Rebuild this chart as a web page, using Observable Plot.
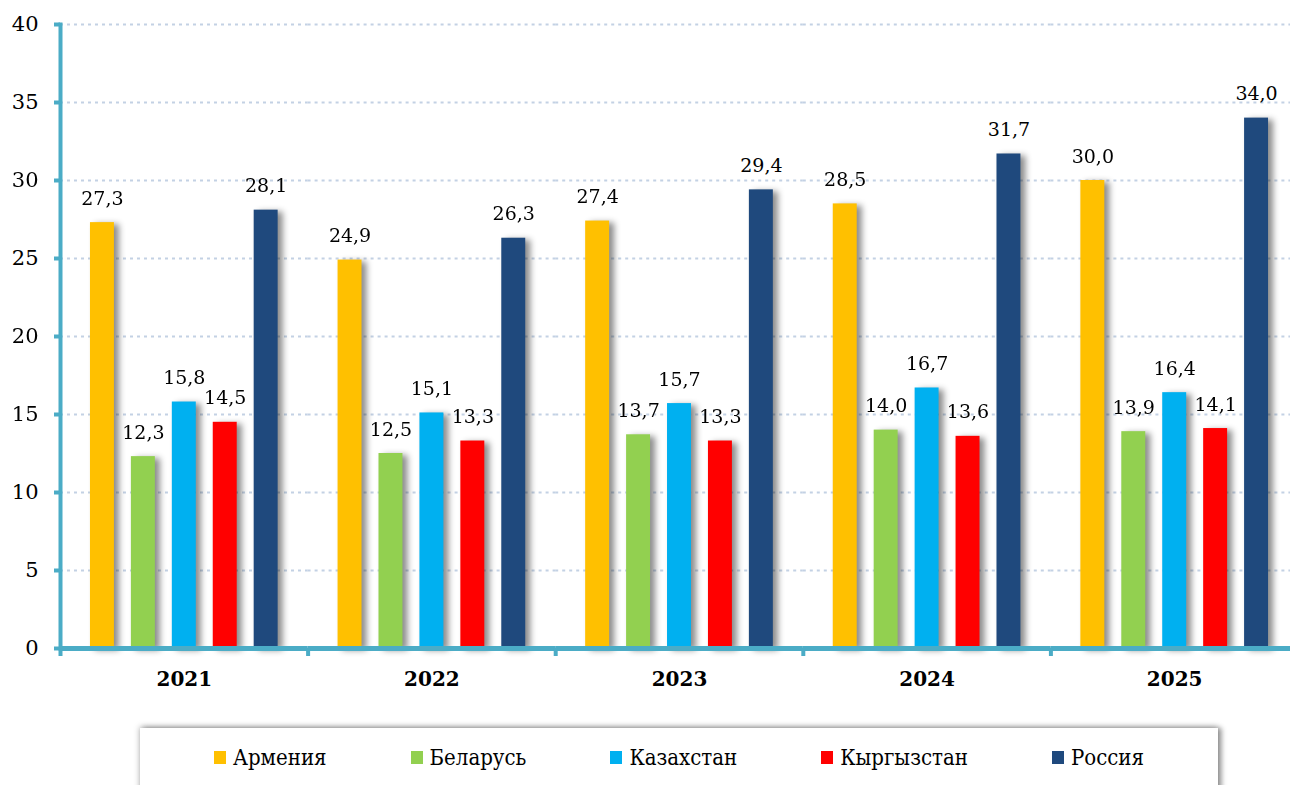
<!DOCTYPE html>
<html>
<head>
<meta charset="utf-8">
<script src="https://cdn.jsdelivr.net/npm/d3@7"></script>
<script src="https://cdn.jsdelivr.net/npm/@observablehq/plot@0.6"></script>
<style>
  html, body { margin: 0; padding: 0; background: #fff; overflow: hidden; width: 1290px; height: 785px; }
  #chart svg { display: block; overflow: visible; max-width: none !important; }
  #legend {
    position: absolute; left: 140px; top: 728px; width: 1078px; height: 80px;
    background: #fff; box-shadow: 0 -1px 6px rgba(0,0,0,0.35), 4px 0 5px rgba(0,0,0,0.3);
    display: flex; justify-content: center; align-items: flex-start; gap: 84px;
    font-family: "DejaVu Serif", serif; font-stretch: condensed; font-size: 22px; color: #000;
  }
  #legend .item { display: flex; align-items: center; margin-top: 17px; }
  #legend .sw { width: 12px; height: 13px; margin-right: 7px; }
</style>
</head>
<body>
<div id="chart"></div>
<div id="legend"></div>
<script>
const years = ["2021", "2022", "2023", "2024", "2025"];
const countries = ["Армения", "Беларусь", "Казахстан", "Кыргызстан", "Россия"];
const colors = ["#FFC000", "#92D050", "#00B0F0", "#FF0000", "#1F497D"];
const armenia    = [27.3, 24.9, 27.4, 28.5, 30.0];
const belarus    = [12.3, 12.5, 13.7, 14.0, 13.9];
const kazakhstan = [15.8, 15.1, 15.7, 16.7, 16.4];
const kyrgyzstan = [14.5, 13.3, 13.3, 13.6, 14.1];
const russia     = [28.1, 26.3, 29.4, 31.7, 34.0];
const yTicks = [0, 5, 10, 15, 20, 25, 30, 35, 40];

const series = [armenia, belarus, kazakhstan, kyrgyzstan, russia];
const data = [];
years.forEach((yr, i) => countries.forEach((c, j) => data.push({year: yr, country: c, value: series[j][i]})));

const axisColor = "#4BACC6";
const W = 1298, mL = 60, mR = 0;
const pInner = 17 / 41, pOuter = 0.732;
const facetW = (W - mL - mR) / years.length;
const step = facetW / (countries.length - pInner + 2 * pOuter);
const boundaryDx = -(step * pOuter + step * (1 - pInner) / 2);
const fmt = v => v.toFixed(1).replace(".", ",");

const chart = Plot.plot({
  width: W,
  height: 712,
  marginLeft: mL,
  marginRight: mR,
  marginTop: 24,
  marginBottom: 64,
  style: {fontFamily: "DejaVu Serif, serif", background: "transparent", overflow: "visible", maxWidth: "none"},
  fx: {domain: years, padding: 0, label: null, round: false},
  x: {domain: countries, paddingInner: pInner, paddingOuter: pOuter, axis: null, round: false},
  y: {domain: [0, 40], axis: null, label: null},
  color: {domain: countries, range: colors},
  marks: [
    Plot.gridY(yTicks, {stroke: "#C3D1E4", strokeOpacity: 1, strokeWidth: 2, strokeDasharray: "3,4"}),
    Plot.barY(data, {fx: "year", x: "country", y: "value", fill: "country"}),
    Plot.text(data, {fx: "year", x: "country", y: "value", text: d => fmt(d.value), lineAnchor: "bottom", dy: -18, fontSize: 19, fill: "#000"}),
    Plot.ruleY([0], {stroke: axisColor, strokeWidth: 5}),
    Plot.ruleX(years, {fx: d => d, x: () => countries[0], y1: 0, y2: 0, insetBottom: -8, dx: boundaryDx, stroke: axisColor, strokeWidth: 4}),
    Plot.frame({anchor: "left", facetAnchor: "left", stroke: axisColor, strokeWidth: 4}),
    Plot.axisY(yTicks, {anchor: "left", label: null, tickSize: 6, tickPadding: 16, fontSize: 21, stroke: axisColor, strokeWidth: 4, tickFormat: d => String(d), fill: "#000"}),
    Plot.axisFx({anchor: "bottom", tickSize: 0, tickPadding: 23, fontSize: 20, fontWeight: "bold", fill: "#000", label: null})
  ]
});
chart.style.maxWidth = "none";
document.getElementById("chart").appendChild(chart);

d3.select(chart).selectAll('g[aria-label="bar"]').style("filter", "drop-shadow(5px 2px 3px rgba(0,0,0,0.45))");

const legend = d3.select("#legend");
countries.forEach((c, i) => {
  const it = legend.append("div").attr("class", "item");
  it.append("div").attr("class", "sw").style("background", colors[i]);
  it.append("span").text(c);
});
</script>
</body>
</html>
